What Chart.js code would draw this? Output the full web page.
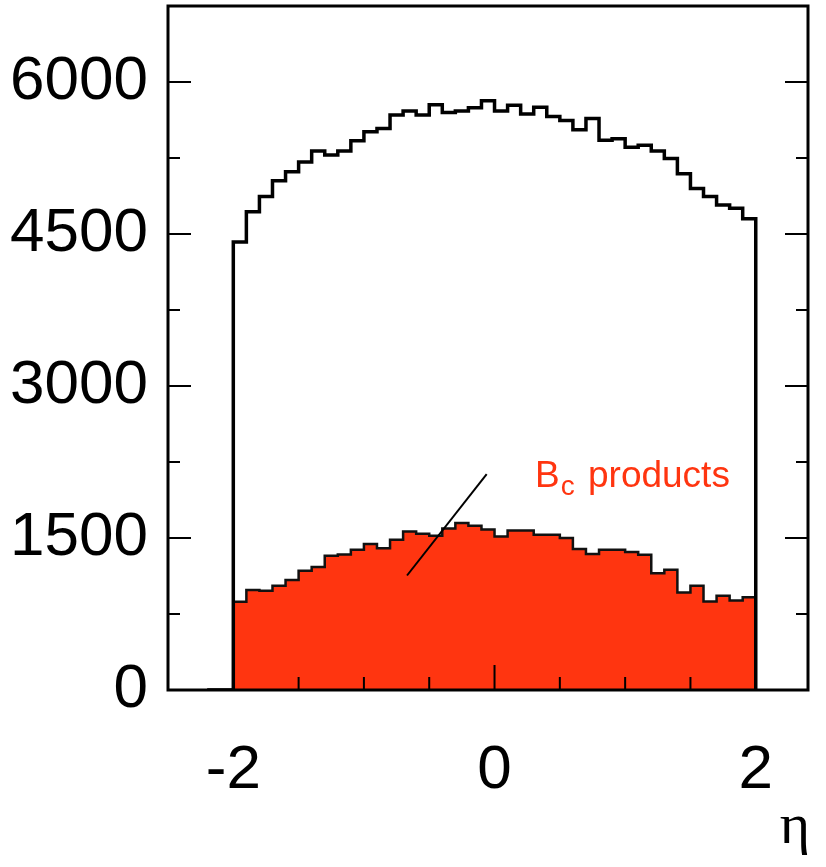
<!DOCTYPE html>
<html>
<head>
<meta charset="utf-8">
<script src="https://cdn.jsdelivr.net/npm/chart.js@4/dist/chart.umd.min.js"></script>
<style>
html, body { margin: 0; padding: 0; background: #fff; }
</style>
</head>
<body>
<canvas id="eta" width="826" height="867"></canvas>
<script>
// bin low edges in eta (width 0.1), plus the closing edge
var binEdges = [-2.0, -1.9, -1.8, -1.7, -1.6, -1.5, -1.4, -1.3, -1.2, -1.1,
                -1.0, -0.9, -0.8, -0.7, -0.6, -0.5, -0.4, -0.3, -0.2, -0.1,
                 0.0,  0.1,  0.2,  0.3,  0.4,  0.5,  0.6,  0.7,  0.8,  0.9,
                 1.0,  1.1,  1.2,  1.3,  1.4,  1.5,  1.6,  1.7,  1.8,  1.9, 2.0];
var emptyEdges = [-2.2, -2.1];

var allTracks = [4420, 4720, 4870, 5025, 5115, 5210, 5320, 5280, 5320, 5420,
                 5510, 5540, 5675, 5715, 5675, 5775, 5700, 5715, 5745, 5815,
                 5715, 5770, 5685, 5750, 5660, 5620, 5530, 5640, 5425, 5440,
                 5355, 5375, 5320, 5245, 5095, 4950, 4870, 4785, 4755, 4650];

var bcProducts = [870, 988, 979, 1028, 1085, 1178, 1215, 1326, 1338, 1384,
                  1442, 1400, 1483, 1565, 1542, 1522, 1593, 1648, 1620, 1585,
                  1515, 1575, 1575, 1532, 1532, 1499, 1391, 1341, 1384, 1384,
                  1361, 1334, 1153, 1186, 962, 1028, 873, 929, 883, 916];

var yTicks = [0, 1500, 3000, 4500, 6000];
var yMinor = [750, 2250, 3750, 5250];
var xTicks = [-2, 0, 2];
var xMinor = [-1.5, -1, -0.5, 0.5, 1, 1.5];

var red = '#ff3510';
var tickFont = { family: "'Liberation Sans', Arial, Helvetica, sans-serif", size: 62 };

function histPoints(values) {
    var pts = [];
    for (var i = 0; i < emptyEdges.length; i++) pts.push({ x: emptyEdges[i], y: 0 });
    for (var j = 0; j < values.length; j++) pts.push({ x: binEdges[j], y: values[j] });
    pts.push({ x: binEdges[binEdges.length - 1], y: 0 });
    return pts;
}

var framePlugin = {
    id: 'frame',
    afterDatasetsDraw: function (chart) {
        var ctx = chart.ctx, a = chart.chartArea;
        var xs = chart.scales.x, ys = chart.scales.y;
        ctx.save();
        ctx.strokeStyle = '#000';
        ctx.lineWidth = 2;
        ctx.beginPath();
        yTicks.concat(yMinor).forEach(function (v) {
            var len = yTicks.indexOf(v) >= 0 ? 23 : 12;
            var py = ys.getPixelForValue(v);
            ctx.moveTo(a.left, py); ctx.lineTo(a.left + len, py);
            ctx.moveTo(a.right, py); ctx.lineTo(a.right - len, py);
        });
        xTicks.concat(xMinor).forEach(function (v) {
            var len = xTicks.indexOf(v) >= 0 ? 25 : 13;
            var px = xs.getPixelForValue(v);
            ctx.moveTo(px, a.bottom); ctx.lineTo(px, a.bottom - len);
        });
        ctx.stroke();

        ctx.lineWidth = 3;
        ctx.strokeRect(a.left, a.top, a.right - a.left, a.bottom - a.top);

        // label for the shaded histogram
        ctx.lineWidth = 2;
        ctx.beginPath();
        ctx.moveTo(xs.getPixelForValue(-0.06), ys.getPixelForValue(2130));
        ctx.lineTo(xs.getPixelForValue(-0.67), ys.getPixelForValue(1130));
        ctx.stroke();

        var tx = xs.getPixelForValue(0.31), ty = ys.getPixelForValue(2100);
        ctx.fillStyle = red;
        ctx.textBaseline = 'middle';
        ctx.textAlign = 'left';
        ctx.font = "37px 'Liberation Sans', Arial, sans-serif";
        ctx.fillText('B', tx, ty);
        var w = ctx.measureText('B').width;
        ctx.font = "28px 'Liberation Sans', Arial, sans-serif";
        ctx.fillText('c', tx + w + 1, ty + 10);
        var wc = ctx.measureText('c').width;
        ctx.font = "37px 'Liberation Sans', Arial, sans-serif";
        ctx.fillText(' products', tx + w + wc + 4, ty);

        ctx.fillStyle = '#000';
        ctx.font = "58px 'Liberation Serif', 'DejaVu Serif', serif";
        ctx.textAlign = 'center';
        ctx.textBaseline = 'alphabetic';
        ctx.fillText('\u03b7', 795, 843);
        ctx.restore();
    }
};

var ctx = document.getElementById('eta');
var myChart = new Chart(ctx, {
    type: 'line',
    data: {
        datasets: [{
            label: 'all',
            data: histPoints(allTracks),
            stepped: 'before',
            borderColor: '#000',
            borderWidth: 3.5,
            pointRadius: 0,
            fill: false
        }, {
            label: 'Bc products',
            data: histPoints(bcProducts),
            stepped: 'before',
            borderColor: '#111',
            borderWidth: 2.5,
            backgroundColor: red,
            pointRadius: 0,
            fill: 'origin'
        }]
    },
    options: {
        responsive: false,
        animation: false,
        devicePixelRatio: 1,
        layout: { padding: { left: 0, right: 18, top: 6, bottom: 0 } },
        plugins: { legend: { display: false }, tooltip: { enabled: false } },
        scales: {
            x: {
                type: 'linear',
                min: -2.5,
                max: 2.4,
                grid: { display: false },
                border: { display: false },
                afterBuildTicks: function (s) { s.ticks = xTicks.map(function (v) { return { value: v }; }); },
                afterFit: function (s) { s.height = 177; s.paddingLeft = 0; s.paddingRight = 0; },
                ticks: {
                    color: '#000',
                    font: tickFont,
                    padding: 36,
                    maxRotation: 0,
                    autoSkip: false,
                    callback: function (v) { return String(v); }
                }
            },
            y: {
                type: 'linear',
                min: 0,
                max: 6750,
                grid: { display: false },
                border: { display: false },
                afterBuildTicks: function (s) { s.ticks = yTicks.map(function (v) { return { value: v }; }); },
                afterFit: function (s) { s.width = 168; s.paddingTop = 0; s.paddingBottom = 0; },
                ticks: {
                    color: '#000',
                    font: tickFont,
                    padding: 12,
                    autoSkip: false,
                    callback: function (v) { return String(v); }
                }
            }
        }
    },
    plugins: [framePlugin]
});
</script>
</body>
</html>
